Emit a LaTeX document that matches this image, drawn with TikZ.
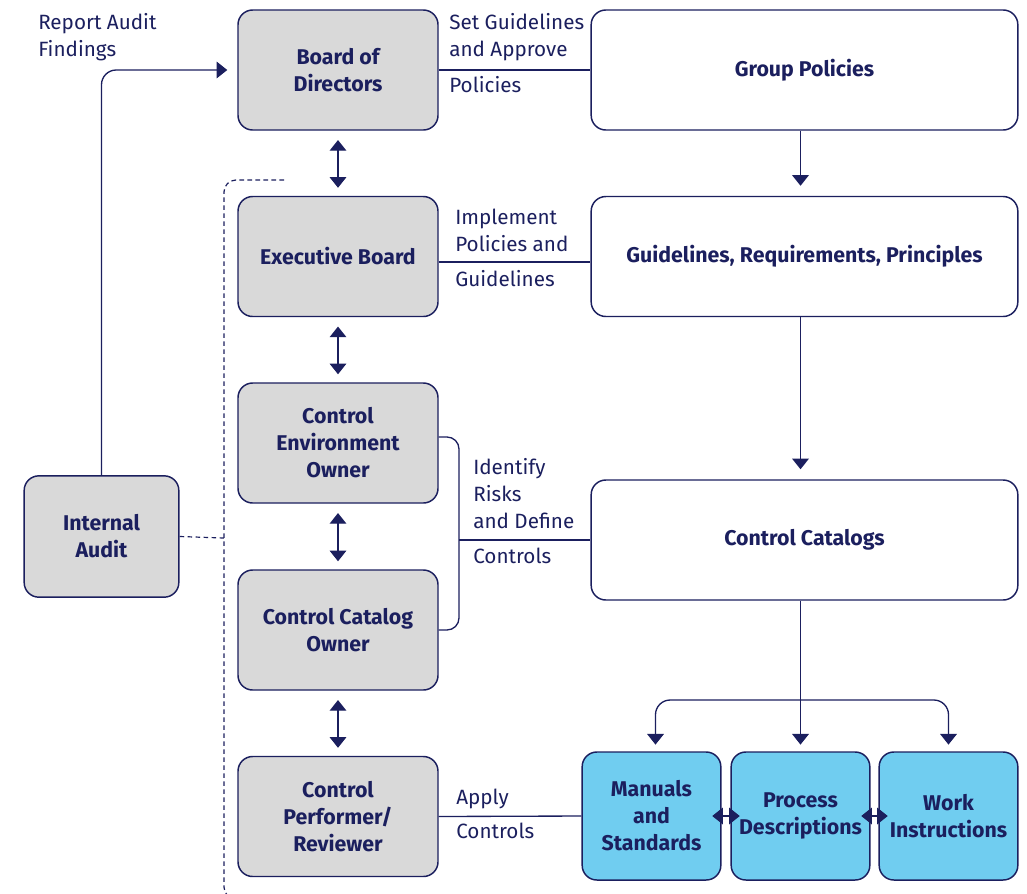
\documentclass[tikz,border=0pt]{standalone}
\usepackage{fontspec}
\setmainfont{Fira Sans}
\usepackage{tikz}
\usetikzlibrary{arrows.meta}
\definecolor{navy}{HTML}{1B1F5E}
\definecolor{boxgray}{HTML}{D9D9D9}
\definecolor{boxblue}{HTML}{70CDF0}

\begin{document}
\begin{tikzpicture}[x=0.75pt, y=-0.75pt,
	box/.style={draw=navy, line width=1.1pt, rounded corners=11pt, fill=boxgray, text=navy, align=center,
		font=\fontsize{16}{20.25}\selectfont\bfseries, minimum width=150pt, minimum height=90pt, inner sep=2pt},
	wide/.style={box, fill=white, minimum width=320pt},
	doc/.style={box, fill=boxblue, minimum width=104pt, minimum height=96pt},
	lbl/.style={text=navy, align=left, font=\fontsize{15.5}{20.25}\selectfont, inner sep=0pt, anchor=north west},
	link/.style={draw=navy, line width=1pt},
	arr/.style={link, -{Triangle[width=12.5pt,length=8pt]}},
	dbl/.style={link, {Triangle[width=12.5pt,length=8pt]}-{Triangle[width=12.5pt,length=8pt]}},
	audit/.style={draw=navy, line width=0.9pt, dash pattern=on 3.5pt off 2.5pt}]
				\useasboundingbox (0,0) rectangle (1027,893);
				\node[box] (board) at (338,70) {Board of\\Directors};
				\node[box] (exec) at (338,256.5) {Executive Board};
				\node[box] (envown) at (338,443) {Control\\Environment\\Owner};
				\node[box] (catown) at (338,630) {Control Catalog\\Owner};
				\node[box] (perf) at (338,816.5) {Control\\Performer/\\Reviewer};
				\node[box, minimum width=116pt, minimum height=91pt] (audit) at (101.5,536.5) {Internal\\Audit};
				\node[wide] (policies) at (804.5,70) {Group Policies};
				\node[wide] (guide) at (804.5,256.5) {Guidelines, Requirements, Principles};
				\node[wide] (catalogs) at (804.5,540) {Control Catalogs};
				\node[doc] (manuals) at (651.5,816) {Manuals\\and\\Standards};
				\node[doc] (process) at (800.5,816) {Process\\Descriptions};
				\node[doc] (work) at (948.5,816) {Work\\Instructions};
				\node[lbl] (reportlbl) at (38,13) {Report Audit\\Findings};
				\node[lbl] (setlbl) at (449,13) {Set Guidelines\\and Approve};
				\node[lbl] (pollbl) at (449,76) {Policies};
				\node[lbl] (impllbl) at (455,209) {Implement\\Policies and};
				\node[lbl] (guidelbl) at (455,270) {Guidelines};
				\node[lbl] (risklbl) at (473,458) {Identify\\Risks\\and Define};
				\node[lbl] (ctrllbl) at (473,548) {Controls};
				\node[lbl] (applylbl) at (456,789) {Apply};
				\node[lbl] (ctrllbl2) at (456,823) {Controls};
				\draw[link] (board.east) -- (policies.west);
				\draw[link] ([yshift=-4pt]exec.east) -- ([yshift=-4pt]guide.west);
				\draw[link] (perf.east) -- (manuals.west);
				\coordinate (brk) at (459,540);
				\draw[link, rounded corners=9pt] ([yshift=4.5pt]envown.east) -| (brk) |- (catown.east);
				\draw[link] (brk) -- (catalogs.west);
				\draw[arr, shorten >=7.5pt] (policies.south -| process.north) -- (guide.north -| process.north);
				\draw[arr, shorten >=7.5pt] (guide.south -| process.north) -- (catalogs.north -| process.north);
				\draw[arr, shorten >=5pt] (catalogs.south -| process.north) -- (process.north);
				\coordinate (fork) at (800,700);
				\draw[arr, rounded corners=11pt, shorten >=5pt] (fork) -| ([xshift=3pt]manuals.north);
				\draw[arr, rounded corners=11pt, shorten >=5pt] (fork) -| (work.north);
				\draw[dbl, shorten <=7pt, shorten >=6pt] (board) -- (exec);
				\draw[dbl, shorten <=7pt, shorten >=6pt] (exec) -- (envown);
				\draw[dbl, shorten <=7pt, shorten >=6pt] (envown) -- (catown);
				\draw[dbl, shorten <=7pt, shorten >=6pt] (catown) -- (perf);
				\draw[dbl] ([xshift=-7pt]manuals.east) -- ([xshift=7pt]process.west);
				\draw[dbl] ([xshift=-7pt]process.east) -- ([xshift=7pt]work.west);
				\draw[arr, rounded corners=11pt, shorten >=7.5pt] (audit.north) |- (board.west);
				\coordinate (dtop) at (284,180);
				\coordinate (dbot) at (250,899);
				\draw[audit, rounded corners=9pt] (dtop) -- (224,180) -- (224,899) -- (dbot);
				\draw[audit] (audit.east) -- (224,538);
			\end{tikzpicture}
\end{document}
